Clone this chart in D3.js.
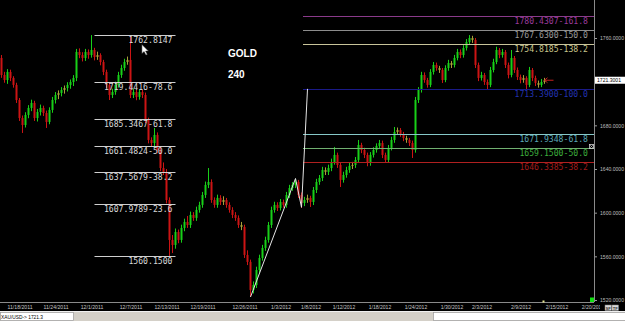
<!DOCTYPE html>
<html><head><meta charset="utf-8">
<script src="https://cdn.jsdelivr.net/npm/d3@7"></script>
<style>html,body{margin:0;padding:0;background:#000;overflow:hidden}svg{display:block}</style>
</head><body>
<script>
// ---------- DATA ----------
const symbol = "GOLD";
const period = "240";
// 4-hour candles [open, high, low, close]
const candles = [
[1741.7,1744.4,1723.5,1726.1],[1726.1,1729.0,1719.0,1721.5],[1721.5,1731.5,1718.0,1728.9],[1728.9,1731.0,1720.5,1723.4],
[1723.4,1725.0,1714.5,1717.0],[1717.0,1719.0,1700.5,1703.2],[1703.2,1705.0,1684.0,1686.7],[1686.7,1689.0,1673.0,1680.3],
[1680.3,1692.0,1678.0,1689.5],[1689.5,1698.5,1686.5,1695.9],[1695.9,1703.5,1693.0,1700.5],[1700.5,1702.5,1684.0,1686.7],
[1686.7,1695.0,1683.5,1692.2],[1692.2,1699.0,1689.0,1695.9],[1695.9,1698.0,1688.5,1691.3],[1691.3,1693.5,1677.6,1683.1],
[1683.1,1696.5,1681.0,1694.1],[1694.1,1706.0,1691.5,1703.2],[1703.2,1710.5,1700.0,1707.8],[1707.8,1712.0,1704.0,1709.6],
[1709.6,1715.0,1706.5,1712.4],[1712.4,1716.5,1709.0,1714.2],[1714.2,1719.5,1711.0,1717.0],[1717.0,1722.0,1713.5,1719.7],
[1719.7,1726.0,1716.0,1723.4],[1723.4,1750.0,1720.5,1747.2],[1747.2,1750.5,1741.5,1744.4],[1744.4,1747.0,1738.5,1741.7],
[1741.7,1750.0,1739.0,1747.2],[1747.2,1749.5,1741.0,1744.4],[1744.4,1762.7,1742.0,1749.0],[1749.0,1751.0,1739.5,1742.6],
[1742.6,1747.5,1740.0,1744.4],[1744.4,1746.0,1735.0,1738.0],[1738.0,1740.0,1726.0,1728.9],[1728.9,1731.0,1714.0,1717.0],
[1717.0,1719.0,1703.2,1707.8],[1707.8,1713.5,1705.0,1710.5],[1710.5,1720.0,1708.0,1717.0],[1717.0,1729.0,1714.5,1726.1],
[1726.1,1735.5,1723.5,1732.5],[1732.5,1741.0,1730.0,1738.0],[1738.0,1743.0,1735.5,1739.9],[1739.9,1760.9,1705.0,1707.8],
[1707.8,1713.5,1705.0,1710.5],[1710.5,1712.5,1703.0,1706.0],[1706.0,1713.0,1703.5,1710.5],[1710.5,1712.5,1705.0,1707.8],
[1707.8,1710.0,1682.0,1684.9],[1684.9,1687.0,1663.5,1666.6],[1666.6,1669.0,1660.5,1663.8],[1663.8,1677.6,1661.0,1671.2],
[1671.2,1673.5,1654.5,1657.4],[1657.4,1660.0,1638.0,1640.9],[1640.9,1646.0,1634.5,1637.3],[1637.3,1640.0,1608.5,1611.6],
[1611.6,1614.0,1560.2,1575.0],[1575.0,1579.5,1563.0,1570.4],[1570.4,1585.5,1567.0,1582.3],[1582.3,1584.5,1572.0,1575.0],
[1575.0,1589.0,1572.5,1586.0],[1586.0,1594.5,1583.0,1591.5],[1591.5,1597.0,1586.0,1588.7],[1588.7,1601.0,1586.0,1597.9],
[1597.9,1600.5,1592.5,1595.2],[1595.2,1605.5,1592.5,1602.5],[1602.5,1610.0,1600.0,1607.1],[1607.1,1619.0,1604.5,1616.2],
[1616.2,1628.5,1613.5,1625.4],[1625.4,1640.9,1622.5,1628.1],[1628.1,1630.5,1609.0,1611.6],[1611.6,1614.0,1604.5,1607.1],
[1607.1,1616.5,1604.5,1613.5],[1613.5,1616.0,1607.0,1609.8],[1609.8,1615.0,1607.0,1611.6],[1611.6,1613.5,1604.5,1607.1],
[1607.1,1609.5,1600.0,1602.5],[1602.5,1605.0,1595.0,1597.9],[1597.9,1600.5,1592.5,1595.2],[1595.2,1597.5,1586.0,1588.7],
[1588.7,1591.5,1584.0,1586.9],[1586.9,1589.0,1558.5,1561.3],[1561.3,1565.5,1552.0,1554.9],[1554.9,1557.0,1522.8,1529.2],
[1529.2,1537.0,1526.0,1533.8],[1533.8,1550.5,1531.0,1547.5],[1547.5,1561.5,1545.0,1558.5],[1558.5,1570.5,1556.0,1567.7],
[1567.7,1578.0,1565.0,1575.0],[1575.0,1591.5,1572.5,1588.7],[1588.7,1605.5,1586.0,1602.5],[1602.5,1610.0,1600.0,1607.1],
[1607.1,1609.5,1601.5,1604.3],[1604.3,1612.5,1602.0,1609.8],[1609.8,1612.0,1604.5,1607.1],[1607.1,1619.0,1604.5,1616.2],
[1616.2,1625.5,1613.5,1622.6],[1622.6,1628.0,1620.0,1625.4],[1625.4,1630.5,1622.5,1628.1],[1628.1,1630.0,1613.5,1616.2],
[1616.2,1618.5,1604.3,1608.9],[1608.9,1614.5,1606.0,1611.6],[1611.6,1616.5,1609.0,1613.5],[1613.5,1615.5,1605.2,1609.8],
[1609.8,1623.5,1607.0,1620.8],[1620.8,1631.0,1618.0,1628.1],[1628.1,1634.5,1625.5,1631.8],[1631.8,1642.0,1629.0,1639.1],
[1639.1,1641.5,1634.5,1637.3],[1637.3,1644.0,1634.5,1640.9],[1640.9,1649.5,1638.0,1646.4],[1646.4,1660.2,1644.0,1652.9],
[1652.9,1655.0,1641.0,1643.7],[1643.7,1646.0,1623.5,1630.0],[1630.0,1637.5,1627.5,1634.5],[1634.5,1642.0,1632.0,1639.1],
[1639.1,1645.5,1636.5,1642.8],[1642.8,1646.5,1640.0,1643.7],[1643.7,1651.0,1641.0,1648.3],[1648.3,1666.6,1646.0,1662.0],
[1662.0,1664.0,1654.5,1657.4],[1657.4,1659.5,1650.0,1652.9],[1652.9,1655.0,1642.5,1645.5],[1645.5,1655.5,1643.0,1652.9],
[1652.9,1660.0,1650.5,1657.4],[1657.4,1663.5,1655.0,1661.1],[1661.1,1666.6,1658.5,1663.8],[1663.8,1666.0,1650.0,1652.9],
[1652.9,1655.0,1645.5,1648.3],[1648.3,1662.0,1646.0,1659.3],[1659.3,1669.5,1657.0,1666.6],[1666.6,1678.5,1664.0,1673.9],
[1673.9,1678.0,1671.5,1675.7],[1675.7,1677.5,1669.5,1672.1],[1672.1,1674.0,1665.5,1668.4],[1668.4,1670.5,1664.0,1666.6],
[1666.6,1668.5,1661.0,1663.8],[1663.8,1666.0,1650.1,1657.4],[1657.4,1706.0,1655.0,1703.2],[1703.2,1715.0,1700.5,1712.4],
[1712.4,1729.0,1710.0,1726.1],[1726.1,1728.5,1719.0,1721.5],[1721.5,1723.5,1714.5,1717.0],[1717.0,1731.5,1715.0,1728.9],
[1728.9,1738.0,1726.5,1735.3],[1735.3,1737.5,1730.0,1732.5],[1732.5,1734.5,1728.0,1730.7],[1730.7,1732.5,1718.8,1721.5],
[1721.5,1735.0,1719.5,1732.5],[1732.5,1740.0,1730.0,1737.1],[1737.1,1739.0,1732.5,1735.3],[1735.3,1744.5,1733.0,1741.7],
[1741.7,1750.0,1739.5,1747.2],[1747.2,1749.5,1741.5,1744.4],[1744.4,1753.5,1742.0,1750.8],[1750.8,1759.0,1748.5,1756.3],
[1756.3,1762.7,1754.0,1760.0],[1760.0,1762.0,1755.5,1758.2],[1758.2,1760.0,1732.5,1735.3],[1735.3,1737.5,1720.5,1723.4],
[1723.4,1729.0,1721.0,1726.1],[1726.1,1728.0,1717.0,1719.7],[1719.7,1722.0,1712.4,1717.0],[1717.0,1733.5,1715.0,1730.7],
[1730.7,1741.0,1728.5,1738.0],[1738.0,1752.0,1736.0,1749.0],[1749.0,1750.8,1741.5,1744.4],[1744.4,1750.0,1742.0,1747.2],
[1747.2,1749.0,1732.5,1735.3],[1735.3,1737.5,1723.0,1726.1],[1726.1,1749.0,1724.0,1741.7],[1741.7,1743.5,1728.0,1730.7],
[1730.7,1733.0,1721.5,1724.3],[1724.3,1726.5,1718.5,1721.5],[1721.5,1726.0,1719.0,1723.4],[1723.4,1725.0,1712.4,1717.0],
[1717.0,1733.5,1715.0,1730.7],[1730.7,1732.5,1720.5,1723.4],[1723.4,1725.5,1716.0,1718.8],[1718.8,1721.0,1714.5,1717.0],
[1717.0,1722.5,1715.0,1719.7],[1719.7,1723.5,1718.0,1721.3]
];
const lastPrice = 1721.3001;
const statusText = "XAU/USD-> 1721.3";

const dateLabels = ["11/18/2011","11/24/2011","12/1/2011","12/7/2011","12/13/2011","12/19/2011","12/26/2011",
  "1/3/2012","1/8/2012","1/12/2012","1/18/2012","1/24/2012","1/30/2012","2/3/2012","2/9/2012","2/15/2012","2/20/2012"];
const dateIndex = [6,18,30,43,55,67,81,93,103,114,126,138,150,160,173,185,197];
const priceTicks = [1520,1560,1600,1640,1680,1760];

// Fibonacci retracement (left)
const retrLevels = [1762.8147,1719.4416,1685.3467,1661.4824,1637.5679,1607.9789,1560.1500];
const retrRatios = [null,78.6,61.8,50.0,38.2,23.6,null];
const retrSpan = [31,58];           // candle index range
// Fibonacci expansion (right)
const extLevels = [1780.4307,1767.6300,1754.8185,1713.3900,1671.9348,1659.1500,1646.3385];
const extRatios = [161.8,150.0,138.2,100.0,61.8,50.0,38.2];
const extColors = ["#8a3a8a","#8c8c8c","#c8c49a","#1a1a88","#86c8c8","#70b070","#b02020"];
const extTextColors = ["#9a3a9a","#9a9a9a","#c8c48a","#2232b0","#5aa8b8","#3cae3c","#a01c1c"];
const extStart = 100.5;
// A-B-C-D trend tool anchors
const abcdIdx = [83,98,100,102];
const abcdPrice = [1522.8,1631.3,1604.9,1713.39];

// ---------- CHART ----------
const W = 625, H = 321, plotR = 594, plotB = 302;
const sans = "'Liberation Sans', Arial, sans-serif";
const svg = d3.select("body").append("svg").attr("width", W).attr("height", H);
svg.append("rect").attr("width", W).attr("height", H).attr("fill", "#000");

const x = d3.scaleLinear().domain([0, candles.length - 1]).range([1.5, 544.5]);
const y = d3.scaleLinear().domain([1520, 1760]).range([300, 38]);

svg.append("clipPath").attr("id","plot").append("rect").attr("x",0).attr("y",0).attr("width",plotR).attr("height",plotB);
const plot = svg.append("g").attr("clip-path","url(#plot)");

// candles
function col(d){ const diff = d[3]-d[0]; if (Math.abs(diff) < 2.6) return "#a8a038"; return diff > 0 ? "#18d018" : "#cc1414"; }
const cg = plot.append("g");
cg.selectAll("line").data(candles).join("line")
  .attr("x1",(d,i)=>x(i)).attr("x2",(d,i)=>x(i))
  .attr("y1",d=>y(d[1])).attr("y2",d=>y(d[2]))
  .attr("stroke",d=>col(d)).attr("stroke-width",1);
cg.selectAll("rect").data(candles).join("rect")
  .attr("x",(d,i)=>x(i)-1).attr("width",2)
  .attr("y",d=>y(Math.max(d[0],d[3])))
  .attr("height",d=>Math.max(1, Math.abs(y(d[0])-y(d[3]))))
  .attr("fill",d=>col(d));

// retracement lines
const mono = "'DejaVu Sans Mono', 'Liberation Mono', monospace";
const rg = plot.append("g");
retrLevels.forEach((p,i)=>{
  const yy = Math.round(y(p)) + 0.5;
  rg.append("line").attr("x1",x(retrSpan[0])).attr("x2",x(retrSpan[1])).attr("y1",yy).attr("y2",yy)
    .attr("stroke","#cfcfcf").attr("stroke-width",1);
  const label = p.toFixed(4) + (retrRatios[i]!==null ? "-" + retrRatios[i].toFixed(1) : "");
  rg.append("text").attr("x",x(retrSpan[1])-3).attr("y",yy+7.5).attr("text-anchor","end")
    .attr("font-family",mono).attr("font-size",8.5).attr("fill","#d8d8d8")
    .attr("textLength",label.length*4.9).attr("lengthAdjust","spacingAndGlyphs").text(label);
});

// expansion lines
const eg = plot.append("g");
extLevels.forEach((p,i)=>{
  const yy = Math.round(y(p)) + 0.5;
  eg.append("line").attr("x1",x(extStart)).attr("x2",plotR).attr("y1",yy).attr("y2",yy)
    .attr("stroke",extColors[i]).attr("stroke-width",1);
  const label = p.toFixed(4) + "-" + extRatios[i].toFixed(1);
  eg.append("text").attr("x",588).attr("y",yy+7.5).attr("text-anchor","end")
    .attr("font-family",mono).attr("font-size",8.5).attr("fill",extTextColors[i])
    .attr("textLength",label.length*4.9).attr("lengthAdjust","spacingAndGlyphs").text(label);
});

// ABCD tool polyline
plot.append("path")
  .attr("d", d3.line().x(d=>x(d[0])).y(d=>y(d[1]))(abcdIdx.map((v,i)=>[v,abcdPrice[i]])))
  .attr("fill","none").attr("stroke","#e6e6e6").attr("stroke-width",1);

// title
svg.append("text").attr("x",228).attr("y",57).attr("fill","#fff").attr("font-family",sans)
  .attr("font-weight","bold").attr("font-size",10).text(symbol);
svg.append("text").attr("x",228).attr("y",78).attr("fill","#fff").attr("font-family",sans)
  .attr("font-weight","bold").attr("font-size",10).text(period);

// mouse cursor
svg.append("path").attr("transform",`translate(${x(46.8)},${y(1754)})`)
  .attr("d","M0,0 L0,9 L2.2,7 L4,10.5 L5.4,9.9 L3.7,6.5 L6.5,6.5 Z")
  .attr("fill","#fff").attr("stroke","#333").attr("stroke-width",0.5);

// y axis
const yAxis = svg.append("g").attr("transform",`translate(${plotR},0)`)
  .call(d3.axisRight(y).tickValues(priceTicks).tickSize(3).tickPadding(3).tickFormat(d=>d.toFixed(4)));
yAxis.select(".domain").remove();
yAxis.selectAll("line").attr("stroke","#9a9a9a");
yAxis.selectAll("text").attr("fill","#bdbdbd").attr("font-family",sans)
  .attr("font-size",5.6).attr("textLength",24).attr("lengthAdjust","spacingAndGlyphs");
svg.append("line").attr("x1",plotR+0.5).attr("x2",plotR+0.5).attr("y1",0).attr("y2",plotB).attr("stroke","#8a8a8a");

// x axis
svg.append("line").attr("x1",0).attr("x2",plotR).attr("y1",plotB+0.5).attr("y2",plotB+0.5).attr("stroke","#8a8a8a");
svg.append("clipPath").attr("id","xclip").append("rect").attr("x",0).attr("y",plotB).attr("width",600).attr("height",10);
const xWrap = svg.append("g").attr("clip-path","url(#xclip)");
const xAxis = xWrap.append("g").attr("transform",`translate(0,${plotB})`)
  .call(d3.axisBottom(x).tickValues(dateIndex).tickSize(0).tickPadding(2).tickFormat((d,i)=>dateLabels[i]));
xAxis.select(".domain").remove();
xAxis.selectAll("text").attr("fill","#c4c4c4").attr("font-family",sans)
  .attr("font-size",5.6).attr("dy","0.9em").each(function(){ const t=d3.select(this); t.attr("textLength", t.text().length*2.5).attr("lengthAdjust","spacingAndGlyphs"); });

// last price box + arrow
const yl = y(lastPrice);
svg.append("rect").attr("x",595).attr("y",yl-3.5).attr("width",30).attr("height",7).attr("fill","#fff");
svg.append("text").attr("x",597).attr("y",yl+2).attr("fill","#000").attr("font-family",sans)
  .attr("font-size",5.6).attr("textLength",24).attr("lengthAdjust","spacingAndGlyphs").text(lastPrice.toFixed(4));
svg.append("line").attr("x1",x(candles.length-1)+0.5).attr("x2",x(candles.length-1)+9).attr("y1",yl).attr("y2",yl).attr("stroke","#c82020");
svg.append("path").attr("d",`M${x(candles.length-1)},${yl} l3,-2.5 M${x(candles.length-1)},${yl} l3,2.5`).attr("stroke","#c82020").attr("fill","none");

// small widgets
svg.append("rect").attr("x",589.5).attr("y",144.5).attr("width",4).attr("height",4).attr("fill","none").attr("stroke","#cfcfcf").attr("stroke-width",0.8);
svg.append("path").attr("d","M589.5,144.5 l4,4 M593.5,144.5 l-4,4").attr("stroke","#cfcfcf").attr("stroke-width",0.6);
svg.append("rect").attr("x",590).attr("y",297.5).attr("width",4).attr("height",4.5).attr("fill","#10e010");
svg.append("rect").attr("x",542.5).attr("y",300.5).attr("width",2).attr("height",2).attr("fill","#e8e890");
[["SF",605],["TF",612]].forEach(b=>{
  svg.append("rect").attr("x",b[1]).attr("y",305).attr("width",6.5).attr("height",5.5).attr("fill","#d8d8d8").attr("stroke","#808080").attr("stroke-width",0.5);
  svg.append("text").attr("x",b[1]+3.25).attr("y",309.6).attr("text-anchor","middle").attr("font-family",sans)
    .attr("font-size",4.2).attr("font-weight","bold").attr("fill","#333").text(b[0]);
});

// status bar
svg.append("rect").attr("x",0).attr("y",311).attr("width",W).attr("height",10).attr("fill","#d4d0c8");
svg.append("line").attr("x1",0).attr("x2",W).attr("y1",311.5).attr("y2",311.5).attr("stroke","#f0f0f0");
svg.append("rect").attr("x",0.5).attr("y",312.5).attr("width",73).attr("height",8).attr("fill","#fff").attr("stroke","#9a9a9a").attr("stroke-width",0.7);
svg.append("text").attr("x",1).attr("y",318.8).attr("fill","#000").attr("font-family",sans)
  .attr("font-size",5.8).attr("textLength",42).attr("lengthAdjust","spacingAndGlyphs").text(statusText);
svg.append("rect").attr("x",433.5).attr("y",312.5).attr("width",192).attr("height",8).attr("fill","#fff").attr("stroke","#9a9a9a").attr("stroke-width",0.7);
</script>
</body></html>
